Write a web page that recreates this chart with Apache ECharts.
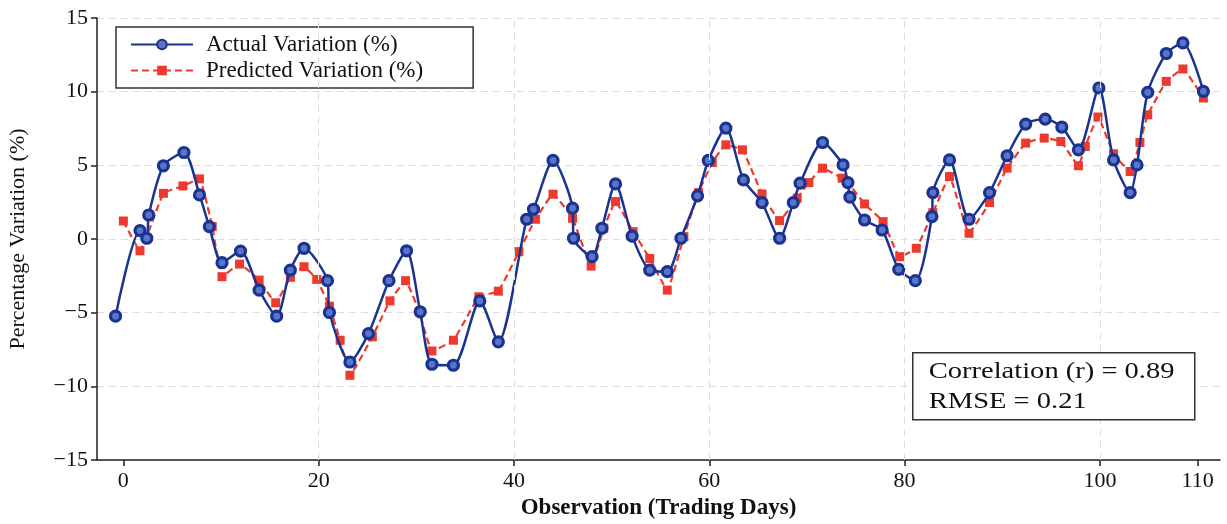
<!DOCTYPE html>
<html>
<head>
<meta charset="UTF-8">
<title>Actual vs Predicted Variation</title>
<script src="https://cdn.jsdelivr.net/npm/echarts@6/dist/echarts.min.js"></script>
<style>
  html, body { margin: 0; padding: 0; background: #fff; }
  #main { width: 1227px; height: 524px; }
</style>
</head>
<body>
<div id="main"></div>
<script type="text/javascript">
// data
var actualX = [-0.8, 1.7, 2.4, 2.6, 4.1, 6.2, 7.8, 8.8, 10.1, 12.0, 13.9, 15.7, 17.1, 18.5, 20.9, 21.1,
  23.2, 25.1, 27.2, 29.0, 30.4, 31.6, 33.8, 36.5, 38.4, 41.3, 42.0, 44.0, 46.0, 46.1, 48.0, 49.0,
  50.4, 52.1, 53.9, 55.7, 57.1, 58.8, 59.9, 61.7, 63.5, 65.4, 67.2, 68.6, 69.3, 71.6, 73.7, 74.2,
  74.4, 75.9, 77.7, 79.4, 81.1, 82.8, 82.9, 84.6, 86.6, 88.7, 90.5, 92.4, 94.4, 96.1, 97.8, 99.9,
  101.4, 103.1, 103.8, 104.9, 106.8, 108.5, 110.6];
var actualY = [-5.24, 0.57, 0.05, 1.63, 4.97, 5.87, 2.99, 0.84, -1.61, -0.82, -3.47, -5.24, -2.11, -0.63, -2.83, -4.99,
  -8.35, -6.42, -2.83, -0.8, -4.94, -8.5, -8.57, -4.2, -6.98, 1.34, 2.02, 5.33, 2.09, 0.05, -1.2, 0.73,
  3.74, 0.2, -2.11, -2.22, 0.05, 2.93, 5.33, 7.53, 4.01, 2.47, 0.05, 2.47, 3.79, 6.55, 5.03, 3.83,
  2.84, 1.29, 0.61, -2.06, -2.83, 1.52, 3.15, 5.37, 1.34, 3.15, 5.65, 7.8, 8.14, 7.6, 6.05, 10.25,
  5.37, 3.15, 5.03, 9.95, 12.59, 13.31, 10.02];

var predX = [0, 1.7, 4.1, 6.1, 7.8, 9.1, 10.1, 11.9, 13.9, 15.6, 17.1, 18.5, 19.8, 21.1, 22.2, 23.2,
  25.5, 27.3, 28.9, 30.3, 31.6, 33.8, 36.4, 38.4, 40.5, 42.2, 44.0, 46.0, 47.9, 49.2, 50.4, 52.2,
  53.9, 55.7, 57.4, 58.9, 60.3, 61.7, 63.4, 65.4, 67.2, 69.0, 70.2, 71.6, 73.6, 74.2, 75.9, 77.8,
  79.5, 81.2, 82.9, 84.6, 86.6, 88.7, 90.5, 92.4, 94.3, 96.0, 97.8, 98.5, 99.8, 101.4, 103.1, 104.1,
  104.9, 106.8, 108.5, 110.6];
var predY = [1.22, -0.8, 3.1, 3.6, 4.08, 0.84, -2.56, -1.7, -2.79, -4.33, -2.6, -1.88, -2.74, -4.56, -6.87, -9.25,
  -6.64, -4.2, -2.83, -4.94, -7.6, -6.87, -3.92, -3.54, -0.86, 1.34, 3.04, 1.41, -1.84, 0.73, 2.54, 0.5,
  -1.32, -3.47, 0.16, 3.15, 5.19, 6.39, 6.05, 3.06, 1.25, 2.77, 3.83, 4.81, 4.13, 3.83, 2.38, 1.18,
  -1.2, -0.63, 1.79, 4.24, 0.39, 2.47, 4.81, 6.51, 6.85, 6.62, 4.97, 6.28, 8.28, 5.78, 4.58, 6.55,
  8.43, 10.7, 11.54, 9.57];

var xTicks = [0, 20, 40, 60, 80, 100, 110];
var xGrid = [20, 40, 60, 80, 100];
var statsLines = ['Correlation (r) = 0.89', 'RMSE = 0.21'];

var blue = '#1a3391';
var red = '#ec3a2e';
var serif = '"Liberation Serif", "Times New Roman", serif';

function pairs(xs, ys) {
  var out = [];
  for (var i = 0; i < xs.length; i++) out.push([xs[i], ys[i]]);
  return out;
}
function minus(v) {
  return String(v).replace('-', '\u2212');
}

var myChart = echarts.init(document.getElementById('main'));

var option = {
  animation: false,
  backgroundColor: '#fff',
  grid: { left: 97, right: 7, top: 18, bottom: 64, outerBoundsMode: 'none', containLabel: false },
  legend: {
    data: ['Actual Variation (%)', 'Predicted Variation (%)'],
    orient: 'vertical',
    left: 116,
    top: 27,
    padding: [6, 50, 6, 14],
    itemGap: 3,
    itemWidth: 62,
    itemHeight: 12,
    borderColor: '#333',
    borderWidth: 1.5,
    backgroundColor: '#fff',
    textStyle: { fontFamily: serif, fontSize: 23, color: '#111', padding: [0, 0, 0, 8] }
  },
  xAxis: {
    type: 'value',
    min: -2.7,
    max: 112.3,
    name: 'Observation (Trading Days)',
    nameLocation: 'middle',
    nameGap: 37,
    nameTextStyle: { fontFamily: serif, fontSize: 23, fontWeight: 'bold', color: '#111' },
    axisLine: { onZero: false, lineStyle: { color: '#222', width: 1.5 } },
    axisTick: { show: true, length: 6, customValues: xTicks, lineStyle: { color: '#222', width: 1.5 } },
    axisLabel: { customValues: xTicks, fontFamily: serif, fontSize: 22, color: '#111', margin: 10 },
    splitLine: { show: false }
  },
  yAxis: {
    type: 'value',
    min: -15,
    max: 15,
    interval: 5,
    name: 'Percentage Variation (%)',
    nameLocation: 'middle',
    nameGap: 68,
    nameTextStyle: { fontFamily: serif, fontSize: 22, color: '#111' },
    axisLine: { show: true, onZero: false, lineStyle: { color: '#222', width: 1.5 } },
    axisTick: { show: true, length: 6, lineStyle: { color: '#222', width: 1.5 } },
    axisLabel: { fontFamily: serif, fontSize: 22, color: '#111', margin: 9, formatter: minus },
    splitLine: { show: true, lineStyle: { color: '#dcdcdc', type: [7, 5], width: 1 } }
  },
  series: [
    {
      name: 'vgrid',
      type: 'line',
      data: [],
      z: 0,
      silent: true,
      markLine: {
        silent: true,
        symbol: 'none',
        label: { show: false },
        lineStyle: { color: '#dcdcdc', type: [7, 5], width: 1 },
        data: xGrid.map(function (v) { return { xAxis: v }; })
      }
    },
    {
      name: 'Actual Variation (%)',
      type: 'line',
      data: pairs(actualX, actualY),
      smooth: 0.25,
      z: 3,
      symbol: 'circle',
      symbolSize: 10,
      lineStyle: { color: blue, width: 2.5 },
      itemStyle: { color: '#5a74c8', borderColor: blue, borderWidth: 3.2 }
    },
    {
      name: 'Predicted Variation (%)',
      type: 'line',
      data: pairs(predX, predY),
      smooth: 0.1,
      z: 2,
      symbol: 'rect',
      symbolSize: 9,
      lineStyle: { color: red, width: 2.2, type: [7, 4] },
      itemStyle: { color: red }
    }
  ],
  graphic: [
    {
      type: 'group',
      left: 912,
      top: 352,
      z: 100,
      children: [
        {
          type: 'rect',
          z: 100,
          shape: { x: 0, y: 0, width: 282, height: 67 },
          style: { fill: '#fff', stroke: '#333', lineWidth: 1.5 }
        },
        {
          type: 'text',
          z: 101,
          x: 16, y: 19, scaleX: 1.24,
          style: { text: statsLines[0], font: '23px ' + serif, fill: '#111', verticalAlign: 'middle' }
        },
        {
          type: 'text',
          z: 101,
          x: 16, y: 49, scaleX: 1.24,
          style: { text: statsLines[1], font: '23px ' + serif, fill: '#111', verticalAlign: 'middle' }
        }
      ]
    }
  ]
};

myChart.setOption(option);
</script>
</body>
</html>
